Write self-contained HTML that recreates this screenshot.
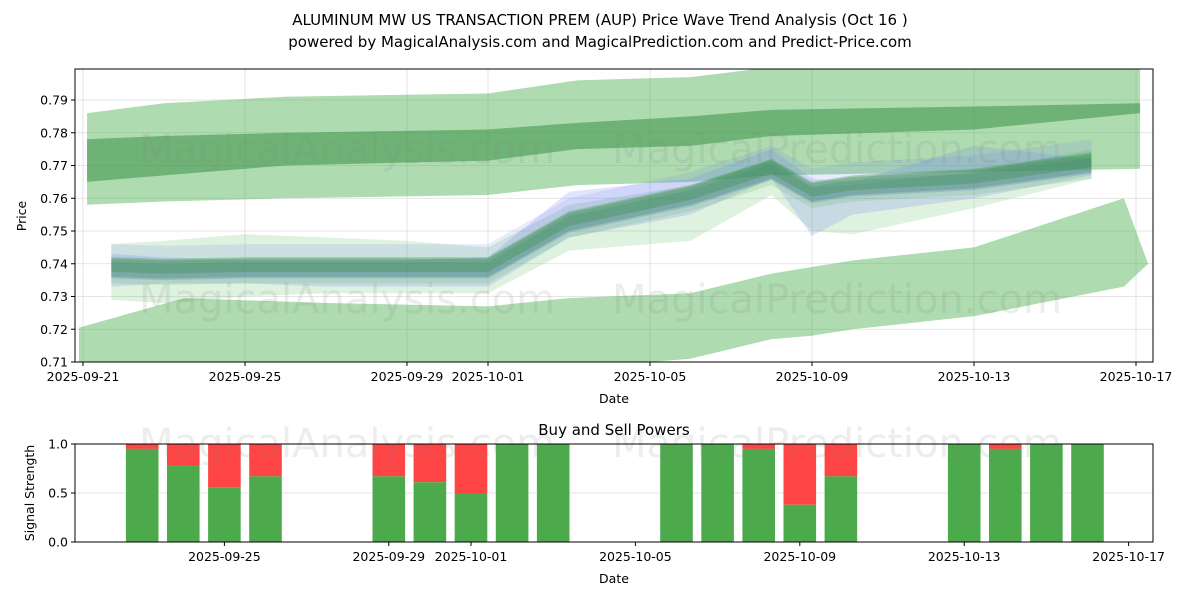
<!DOCTYPE html>
<html><head><meta charset="utf-8"><style>
body{margin:0;background:#fff;font-family:"Liberation Sans","DejaVu Sans",sans-serif}
svg text{font-family:"DejaVu Sans","Liberation Sans",sans-serif}
</style></head><body>
<svg id="c" width="1200" height="600" xmlns="http://www.w3.org/2000/svg">
<rect width="1200" height="600" fill="#fff"/>
<text x="600" y="25" text-anchor="middle" font-size="15">ALUMINUM MW US TRANSACTION PREM (AUP) Price Wave Trend Analysis (Oct 16 )</text>
<text x="600" y="47" text-anchor="middle" font-size="15">powered by MagicalAnalysis.com and MagicalPrediction.com and Predict-Price.com</text>
<defs><clipPath id="cp"><rect x="75" y="69" width="1078" height="293"/></clipPath></defs>
<g id="topg"></g>
<g id="botg"></g>
</svg>
<script>
// ---- data ----
const upDays=[0.1,2,5,10,12.2,15,17,22,26.1];
const upTop=[0.786,0.789,0.791,0.792,0.796,0.797,0.800,0.801,0.801];
const upBot=[0.758,0.759,0.760,0.761,0.764,0.765,0.767,0.768,0.769];
const dkTop=[0.778,0.779,0.780,0.781,0.783,0.785,0.787,0.788,0.789];
const dkBot=[0.765,0.767,0.770,0.7715,0.775,0.776,0.779,0.781,0.786];
const loDays=[-0.1,2.5,6,10,12,15,17,18,19,22,25.7,26.3];
const loTop=[0.7205,0.7295,0.728,0.727,0.7295,0.731,0.737,0.739,0.741,0.745,0.760,0.740];
const loBot=[0.706,0.706,0.706,0.707,0.708,0.711,0.717,0.718,0.720,0.724,0.733,0.740];
const cDays=[0.7,2,4,6,8,10,12,15,17,18,19,22,24.9];
const cVals=[0.739,0.7385,0.739,0.739,0.739,0.739,0.753,0.761,0.769,0.762,0.764,0.766,0.771];
const waveATop=[0.743,0.742,0.741,0.741,0.741,0.742,0.762,0.766,0.775,0.766,0.765,0.776,0.772];
const waveABot=[0.733,0.734,0.734,0.733,0.733,0.733,0.748,0.755,0.766,0.7485,0.755,0.760,0.767];
const waveBTop=[0.746,0.747,0.749,0.748,0.747,0.745,0.758,0.764,0.772,0.763,0.764,0.768,0.775];
const waveBBot=[0.729,0.728,0.730,0.731,0.731,0.731,0.744,0.747,0.761,0.750,0.749,0.757,0.766];
const barDays=[2,3,4,5,8,9,10,11,12,15,16,17,18,19,22,23,24,25];
const buyVals=[0.95,0.78,0.56,0.67,0.67,0.61,0.5,1,1,1,1,0.95,0.38,0.67,1,0.95,1,1];
const xTicks=['2025-09-21','2025-09-25','2025-09-29','2025-10-01','2025-10-05','2025-10-09','2025-10-13','2025-10-17'];
const xTickDays=[0,4,8,10,14,18,22,26];
const yTicks=[0.71,0.72,0.73,0.74,0.75,0.76,0.77,0.78,0.79];
const sTicks=[0,0.5,1];
// ---- axes ----
const NS='http://www.w3.org/2000/svg';
const X=d=>83+d*40.5;
const X2=d=>60+d*41.1;
const Y=v=>100+(0.79-v)*3275;
const YS=v=>542-v*98;
function mk(t,a,p){const e=document.createElementNS(NS,t);for(const k in a)e.setAttribute(k,a[k]);p.appendChild(e);return e;}
const topG=document.getElementById('topg'),botG=document.getElementById('botg');
yTicks.forEach(v=>{const l=mk('line',{x1:75,x2:1153,y1:Y(v),y2:Y(v),stroke:'#ddd','stroke-width':0.8},topG);});
xTickDays.forEach(d=>{const l=mk('line',{x1:X(d),x2:X(d),y1:69,y2:362,stroke:'#ddd','stroke-width':0.8},topG);});
const g=mk('g',{'clip-path':'url(#cp)'},topG);
function band(days,t,b,fill,op,name){
 let pts=days.map((d,i)=>X(d)+','+Y(t[i]));
 for(let i=days.length-1;i>=0;i--)pts.push(X(days[i])+','+Y(b[i]));
 const p=mk('polygon',{points:pts.join(' '),fill:fill,'fill-opacity':op},g);
 
 
}
band(upDays,upTop,upBot,'#4caf50',0.45,'upper-band');
band(upDays,dkTop,dkBot,'#2e8b3a',0.5,'upper-core-band');
band(loDays,loTop,loBot,'#4caf50',0.45,'lower-band');
band(cDays,waveBTop,waveBBot,'#4caf50',0.18,'wave-band');
band(cDays,waveATop,waveABot,'#6a7ff0',0.2,'wave-band');
const waves=[[0.005,0.002,'#6a7ff0',0.15],[0.004,-0.001,'#4caf50',0.18],[0.003,0,'#3c8a50',0.25],[0.0025,-0.001,'#4a7fa0',0.25],[0.002,0.0005,'#2e8b3a',0.3]];
waves.forEach(w=>{band(cDays,cVals.map(v=>v+w[1]+w[0]),cVals.map(v=>v+w[1]-w[0]),w[2],w[3],'wave-band');});
[[347,150],[837,150],[347,300],[837,300]].forEach((p,i)=>{const t=mk('text',{x:p[0],y:p[1]+13,'text-anchor':'middle','font-size':40,fill:'#888','fill-opacity':0.15},topG);t.textContent=i%2?'MagicalPrediction.com':'MagicalAnalysis.com';});
mk('rect',{x:75,y:69,width:1078,height:293,fill:'none',stroke:'#000','stroke-width':1},topG);
yTicks.forEach(v=>{mk('line',{x1:71,x2:75,y1:Y(v),y2:Y(v),stroke:'#000'},topG);const t=mk('text',{x:68,y:Y(v)+4.5,'text-anchor':'end','font-size':12.5},topG);t.textContent=v.toFixed(2);});
xTickDays.forEach((d,i)=>{mk('line',{x1:X(d),x2:X(d),y1:362,y2:366,stroke:'#000'},topG);const t=mk('text',{x:X(d),y:381,'text-anchor':'middle','font-size':12.5},topG);t.textContent=xTicks[i];});
let t=mk('text',{x:614,y:403,'text-anchor':'middle','font-size':12.5},topG);t.textContent='Date';
t=mk('text',{x:26,y:216,'text-anchor':'middle','font-size':12.5,transform:'rotate(-90 26 216)'},topG);t.textContent='Price';
sTicks.forEach(v=>{const l=mk('line',{x1:75,x2:1153,y1:YS(v),y2:YS(v),stroke:'#ddd','stroke-width':0.8},botG);});
barDays.forEach((d,i)=>{const v=buyVals[i];
 const r=mk('rect',{x:X2(d)-16.3,y:YS(1),width:32.6,height:YS(v)-YS(1),fill:'#ff4444'},botG);
 const b=mk('rect',{x:X2(d)-16.3,y:YS(v),width:32.6,height:YS(0)-YS(v),fill:'#4caa4c'},botG);});
[[347,444],[837,444]].forEach((p,i)=>{const w=mk('text',{x:p[0],y:p[1]+13,'text-anchor':'middle','font-size':40,fill:'#888','fill-opacity':0.15},botG);w.textContent=i?'MagicalPrediction.com':'MagicalAnalysis.com';});
mk('rect',{x:75,y:444,width:1078,height:98,fill:'none',stroke:'#000'},botG);
sTicks.forEach(v=>{mk('line',{x1:71,x2:75,y1:YS(v),y2:YS(v),stroke:'#000'},botG);const s=mk('text',{x:68,y:YS(v)+4.5,'text-anchor':'end','font-size':12.5},botG);s.textContent=v.toFixed(1);});
xTickDays.slice(1).forEach((d,i)=>{mk('line',{x1:X2(d),x2:X2(d),y1:542,y2:546,stroke:'#000'},botG);const s=mk('text',{x:X2(d),y:561,'text-anchor':'middle','font-size':12.5},botG);s.textContent=xTicks[i+1];});
t=mk('text',{x:614,y:583,'text-anchor':'middle','font-size':12.5},botG);t.textContent='Date';
t=mk('text',{x:34,y:493,'text-anchor':'middle','font-size':12.5,transform:'rotate(-90 34 493)'},botG);t.textContent='Signal Strength';
t=mk('text',{x:614,y:435,'text-anchor':'middle','font-size':15},botG);t.textContent='Buy and Sell Powers';
</script>
</body></html>
